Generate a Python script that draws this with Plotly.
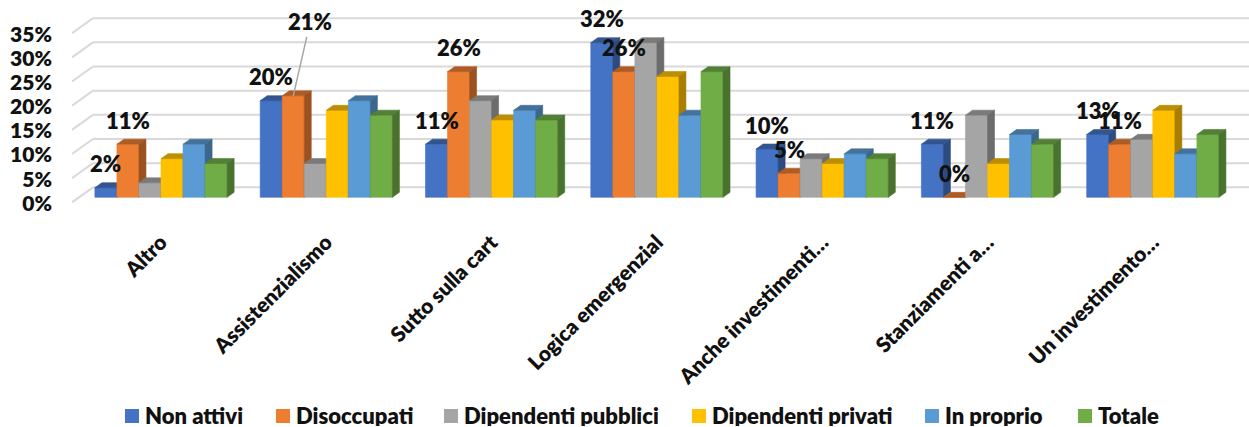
import plotly.graph_objects as go

# ---- data -------------------------------------------------------------
CATEGORIES = [
    "Altro",
    "Assistenzialismo",
    "Sutto sulla cart",
    "Logica emergenzial",
    "Anche investimenti…",
    "Stanziamenti a…",
    "Un investimento…",
]
SERIES_NAMES = [
    "Non attivi",
    "Disoccupati",
    "Dipendenti pubblici",
    "Dipendenti privati",
    "In proprio",
    "Totale",
]
non_attivi = [2, 20, 11, 32, 10, 11, 13]
disoccupati = [11, 21, 26, 26, 5, 0, 11]
dipendenti_pubblici = [3, 7, 20, 32, 8, 17, 12]
dipendenti_privati = [8, 18, 16, 25, 7, 7, 18]
in_proprio = [11, 20, 18, 17, 9, 13, 9]
totale = [7, 17, 16, 26, 8, 11, 13]
Y_TICKS = [0, 5, 10, 15, 20, 25, 30, 35]

SERIES_VALUES = [non_attivi, disoccupati, dipendenti_pubblici,
                 dipendenti_privati, in_proprio, totale]
LABELLED_SERIES = {0, 1}  # only these series carry value labels

# ---- styling / layout --------------------------------------------------
COLORS = ["#4472C4", "#ED7D31", "#A5A5A5", "#FFC000", "#5B9BD5", "#70AD47"]
FONT = "Lato, 'Open Sans', Arial, sans-serif"
TEXT_COLOR = "#111111"
WEIGHT = 800

W, H = 1249, 427
M_L, M_R, M_T, M_B = 72, 0, 4, 220
Y_MIN, Y_MAX = -0.02, 0.40
PLOT_W = W - M_L - M_R
PLOT_H = H - M_T - M_B
PX_PER_Y = PLOT_H / (Y_MAX - Y_MIN)
CAT_PX = 165.3                      # pixels between category centres
X_MIN = -(161 - M_L) / CAT_PX
X_MAX = X_MIN + PLOT_W / CAT_PX

GROUP_FRAC = 0.8                    # share of a category slot taken by bars
BAR_W = GROUP_FRAC / len(SERIES_NAMES)
DEPTH_PX_X, DEPTH_PX_Y = 7, 5       # extrusion of the pseudo-3D bars
DX = DEPTH_PX_X / CAT_PX
DY = DEPTH_PX_Y / PX_PER_Y

WALL_DX, WALL_FRONT, WALL_BACK = 21, -5, 10   # back-wall gridline offsets (px)

# legend row (pixel positions of the swatches, left edges)
LEGEND_SWATCH_X = [125, 276, 444, 692, 925, 1078]
LEGEND_Y = 415
SWATCH = 14
LEGEND_GAP = 5


def shade(hex_color, k):
    h = hex_color.lstrip("#")
    r, g, b = (int(h[i:i + 2], 16) for i in (0, 2, 4))
    return "#{:02x}{:02x}{:02x}".format(int(r * k), int(g * k), int(b * k))


def paper_x(px):
    return (px - M_L) / PLOT_W


def paper_y(py):
    return (H - M_B - py) / PLOT_H


def font(size):
    return dict(family=FONT, size=size, color=TEXT_COLOR, weight=WEIGHT)


fig = go.Figure()

# bars: front, top and side faces, series by series so that each
# following series hides the side faces of the one before it
for j, (name, vals) in enumerate(zip(SERIES_NAMES, SERIES_VALUES)):
    fx, fy, tx, ty, sx, sy = [], [], [], [], [], []
    for i, pct in enumerate(vals):
        v = pct / 100
        xl = i - GROUP_FRAC / 2 + j * BAR_W
        xr = xl + BAR_W
        fx += [xl, xr, xr, xl, xl, None]
        fy += [0, 0, v, v, 0, None]
        tx += [xl, xr, xr + DX, xl + DX, xl, None]
        ty += [v, v, v + DY, v + DY, v, None]
        sx += [xr, xr + DX, xr + DX, xr, xr, None]
        sy += [0, DY, v + DY, v, 0, None]
    for xs, ys, col in ((fx, fy, COLORS[j]),
                        (tx, ty, shade(COLORS[j], 0.74)),
                        (sx, sy, shade(COLORS[j], 0.66))):
        fig.add_trace(go.Scatter(
            x=xs, y=ys, mode="lines", fill="toself", fillcolor=col,
            line=dict(color=col, width=0.6), hoverinfo="skip",
            name=name, showlegend=False))

# back-wall gridlines with the short receding segment on the left
for t in Y_TICKS:
    v = t / 100
    common = dict(type="line", xref="x", yref="y", layer="below",
                  xsizemode="pixel", xanchor=X_MIN,
                  ysizemode="pixel", yanchor=v,
                  line=dict(color="#d9d9d9", width=2))
    fig.add_shape(x0=0, x1=WALL_DX, y0=WALL_FRONT, y1=WALL_BACK, **common)
    fig.add_shape(x0=WALL_DX, x1=PLOT_W + 5, y0=WALL_BACK, y1=WALL_BACK,
                  **common)

# value labels
for j in sorted(LABELLED_SERIES):
    for i, pct in enumerate(SERIES_VALUES[j]):
        xc = i - GROUP_FRAC / 2 + (j + 0.5) * BAR_W
        text = f"{pct}%"
        if j == 1 and i == 1:
            # this label sits higher with a leader line to its bar
            fig.add_annotation(x=xc, y=pct / 100, text=text, font=font(22),
                               showarrow=True, ax=17, ay=-74, arrowhead=0,
                               arrowwidth=1.5, arrowcolor="#a6a6a6",
                               standoff=0, startstandoff=0)
        else:
            fig.add_annotation(x=xc, y=pct / 100, text=text, font=font(22),
                               showarrow=False, yshift=24)

# legend row: colour swatch followed by the series name
for name, col, sx in zip(SERIES_NAMES, COLORS, LEGEND_SWATCH_X):
    fig.add_shape(type="rect", xref="paper", yref="paper",
                  x0=paper_x(sx), x1=paper_x(sx + SWATCH),
                  y0=paper_y(LEGEND_Y - SWATCH / 2 + 1),
                  y1=paper_y(LEGEND_Y + SWATCH / 2 + 1),
                  fillcolor=col, line=dict(width=0))
    fig.add_annotation(xref="paper", yref="paper",
                       x=paper_x(sx + SWATCH + LEGEND_GAP), y=paper_y(LEGEND_Y),
                       xanchor="left", yanchor="middle", text=name,
                       height=22, valign="middle", borderpad=0,
                       font=font(22), showarrow=False)

fig.update_layout(
    width=W, height=H,
    margin=dict(l=M_L, r=M_R, t=M_T, b=M_B, autoexpand=False),
    paper_bgcolor="white", plot_bgcolor="white",
    font=dict(family=FONT, size=21, color=TEXT_COLOR),
    showlegend=False,
    xaxis=dict(range=[X_MIN, X_MAX], tickmode="array",
               tickvals=list(range(len(CATEGORIES))), ticktext=CATEGORIES,
               tickangle=-45, showgrid=False, zeroline=False, showline=False,
               ticks="", ticklabelstandoff=18, fixedrange=True,
               tickfont=font(21)),
    yaxis=dict(range=[Y_MIN, Y_MAX], tickmode="array",
               tickvals=[t / 100 for t in Y_TICKS],
               ticktext=[f"{t}%" for t in Y_TICKS],
               showgrid=False, zeroline=False, showline=False, ticks="",
               ticklabelshift=6, ticklabelstandoff=19, fixedrange=True,
               tickfont=font(21)),
)

fig.write_html("out.html")
